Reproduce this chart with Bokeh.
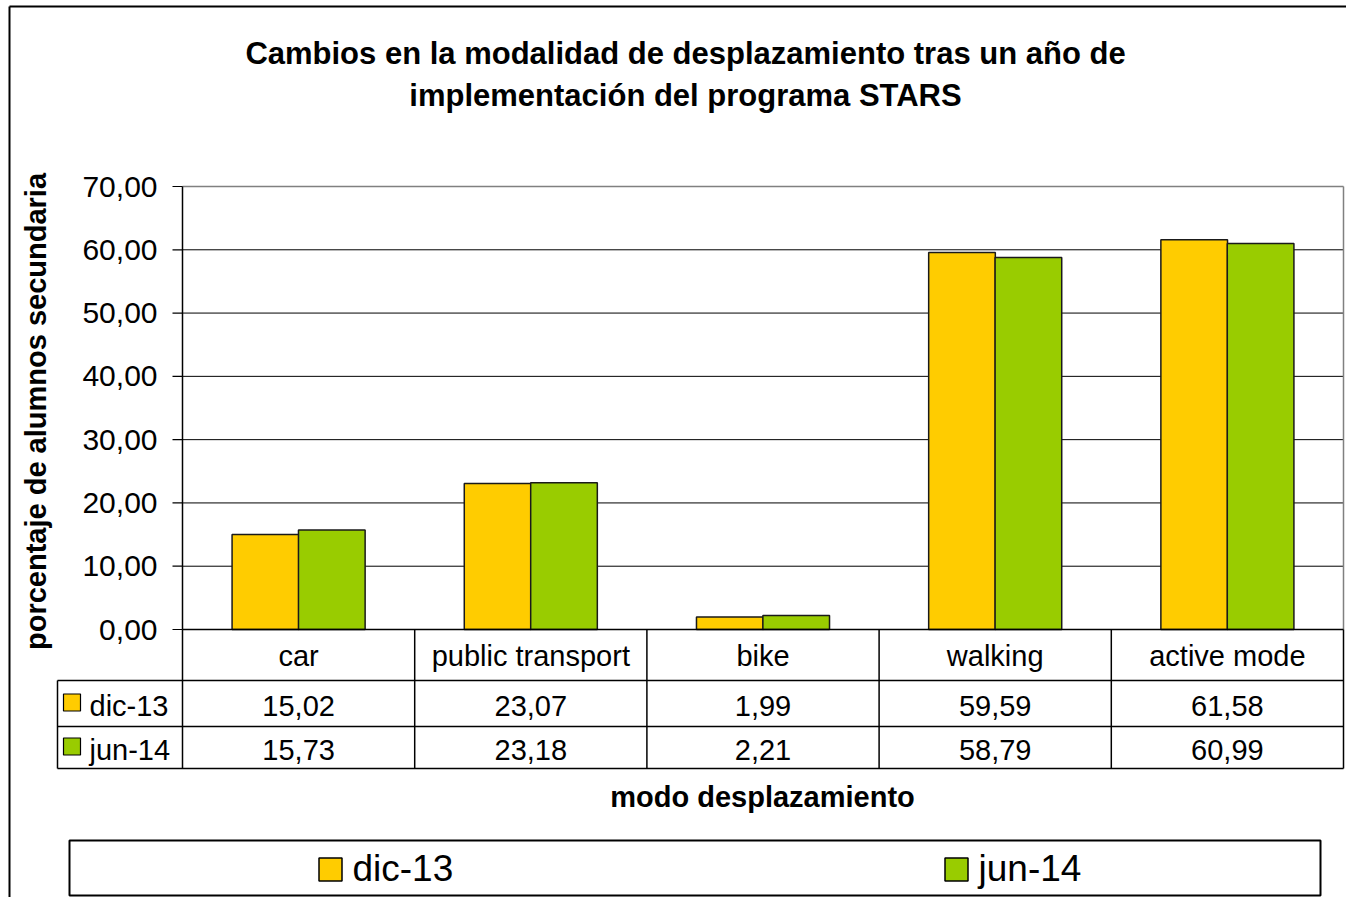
import math
from bokeh.plotting import figure
from bokeh.models import Range1d
from bokeh.core.properties import value
from bokeh.embed import file_html
from bokeh.resources import INLINE

# ---------------- data ----------------
categories = ["car", "public transport", "bike", "walking", "active mode"]
series_names = ["dic-13", "jun-14"]
dic13 = [15.02, 23.07, 1.99, 59.59, 61.58]
jun14 = [15.73, 23.18, 2.21, 58.79, 60.99]
y_ticks = [0, 10, 20, 30, 40, 50, 60, 70]
y_tick_labels = ["0,00", "10,00", "20,00", "30,00", "40,00", "50,00", "60,00", "70,00"]
title_lines = ["Cambios en la modalidad de desplazamiento tras un año de",
               "implementación del programa STARS"]
y_title = "porcentaje de alumnos secundaria"
x_title = "modo desplazamiento"
series_colors = ["#FFCC00", "#99CC00"]

FONT = "Liberation Sans"
W, H = 1346, 897

# ------------- layout helpers (page pixel -> data units) -------------
X0, X1 = 182.0, 1343.0          # plot area left / right (page px)
Y0, YTOP = 629.0, 186.0         # value 0 / value 70 (page px)
NCAT = len(categories)
XS = (X1 - X0) / NCAT
YS = (Y0 - YTOP) / y_ticks[-1]


def dx(px):
    return (px - X0) / XS


def dy(py):
    return (Y0 - py) / YS


p = figure(width=W, height=H, output_backend="svg", toolbar_location=None,
           x_axis_location=None, y_axis_location=None,
           x_range=Range1d(dx(0), dx(W)), y_range=Range1d(dy(H), dy(0)),
           min_border=0, outline_line_color=None, background_fill_color="white",
           border_fill_color="white")
p.grid.visible = False

# ---------------- outer chart border (left/top visible) ----------------
p.segment(x0=[dx(9), dx(9)], y0=[dy(6), dy(6)], x1=[dx(9), dx(W)], y1=[dy(H), dy(6)],
          line_color="black", line_width=2)

# ---------------- title ----------------
p.text(x=[dx(685)] * 2, y=[dy(53), dy(95)], text=title_lines,
       text_font=value(FONT), text_font_style="bold", text_font_size="31px",
       text_align="center", text_baseline="middle", text_color="black")

# ---------------- grid lines ----------------
xend = NCAT
p.segment(x0=[0] * (len(y_ticks) - 2), y0=y_ticks[1:-1], x1=[xend] * (len(y_ticks) - 2),
          y1=y_ticks[1:-1], line_color="black", line_width=1)
# plot area border (top / right) gray
p.segment(x0=[0, xend], y0=[y_ticks[-1], 0], x1=[xend, xend], y1=[y_ticks[-1], y_ticks[-1]],
          line_color="#808080", line_width=1.5)

# ---------------- bars ----------------
bw = 0.287
offs = [-0.143, 0.143]
for vals, col, off in zip([dic13, jun14], series_colors, offs):
    p.vbar(x=[i + 0.5 + off for i in range(NCAT)], top=vals, bottom=0, width=bw,
           fill_color=col, line_color="#1a1a1a", line_width=1.5)

# ---------------- y axis ----------------
p.segment(x0=[0], y0=[0], x1=[0], y1=[y_ticks[-1]], line_color="black", line_width=1.5)
tick_len = 10 / XS
p.segment(x0=[-tick_len] * len(y_ticks), y0=y_ticks, x1=[0] * len(y_ticks), y1=y_ticks,
          line_color="black", line_width=1.2)
p.text(x=[dx(157)] * len(y_ticks), y=y_ticks, text=y_tick_labels,
       text_font=value(FONT), text_font_size="30px", text_align="right",
       text_baseline="middle", text_color="black")
p.text(x=[dx(35)], y=[dy(411)], text=[y_title], angle=math.pi / 2,
       text_font=value(FONT), text_font_style="bold", text_font_size="29px",
       text_align="center", text_baseline="middle", text_color="black")

# ---------------- data table ----------------
row_bottoms = [dy(680), dy(726), dy(768)]
left_col = dx(57)
# horizontal lines
p.segment(x0=[0] + [left_col] * 3, y0=[0] + row_bottoms,
          x1=[xend] * 4, y1=[0] + row_bottoms, line_color="black", line_width=1.5)
# vertical lines
vx = list(range(NCAT + 1))
p.segment(x0=vx, y0=[0] * len(vx), x1=vx, y1=[row_bottoms[-1]] * len(vx),
          line_color="black", line_width=1.5)
p.segment(x0=[left_col], y0=[row_bottoms[0]], x1=[left_col], y1=[row_bottoms[-1]],
          line_color="black", line_width=1.5)
# header labels
p.text(x=[i + 0.5 for i in range(NCAT)], y=[dy(655)] * NCAT, text=categories,
       text_font=value(FONT), text_font_size="29px", text_align="center",
       text_baseline="middle", text_color="black")
# values
row_centers = [dy(705), dy(749)]
for vals, yc in zip([dic13, jun14], row_centers):
    p.text(x=[i + 0.5 for i in range(NCAT)], y=[yc] * NCAT,
           text=[f"{v:.2f}".replace(".", ",") for v in vals],
           text_font=value(FONT), text_font_size="29px", text_align="center",
           text_baseline="middle", text_color="black")
# row labels with swatches
p.rect(x=[dx(71.5)] * 2, y=[dy(702), dy(746)], width=17, height=17,
       width_units="screen", height_units="screen",
       fill_color=series_colors, line_color="black", line_width=1.2)
p.text(x=[dx(89)] * 2, y=row_centers, text=series_names,
       text_font=value(FONT), text_font_size="29px", text_align="left",
       text_baseline="middle", text_color="black")

# ---------------- x title ----------------
p.text(x=[dx(762)], y=[dy(796)], text=[x_title],
       text_font=value(FONT), text_font_style="bold", text_font_size="29px",
       text_align="center", text_baseline="middle", text_color="black")

# ---------------- legend ----------------
p.quad(left=[dx(69)], right=[dx(1320)], top=[dy(840)], bottom=[dy(895)],
       fill_color="white", line_color="black", line_width=2)
p.rect(x=[dx(330), dx(956)], y=[dy(869), dy(869)], width=23, height=23,
       width_units="screen", height_units="screen",
       fill_color=series_colors, line_color="black", line_width=1.5)
p.text(x=[dx(352), dx(978)], y=[dy(868), dy(868)], text=series_names,
       text_font=value(FONT), text_font_size="37px", text_align="left",
       text_baseline="middle", text_color="black")

open("out.html", "w").write(file_html(p, INLINE))
